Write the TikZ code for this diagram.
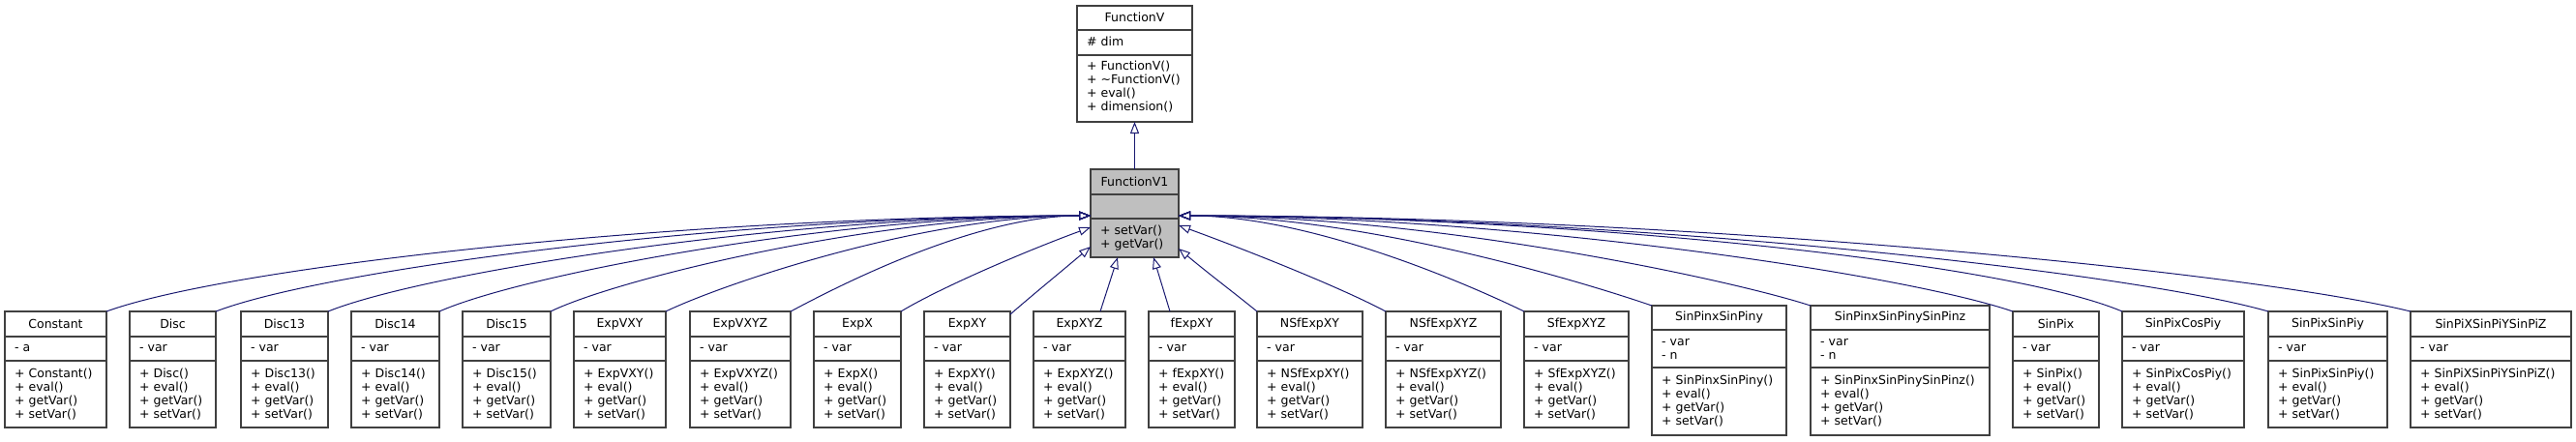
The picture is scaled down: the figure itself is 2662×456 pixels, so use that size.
\documentclass[tikz,border=0pt]{standalone}
\usepackage{fontspec}
\setmainfont{DejaVu Sans}
\usetikzlibrary{arrows.meta,positioning,calc}
\definecolor{edgeblue}{RGB}{25,25,112}
\definecolor{boxgray}{RGB}{191,191,191}
\definecolor{boxline}{RGB}{64,64,64}

\tikzset{
  classbox/.style={draw=boxline, line width=1.4pt, fill=white, rectangle,
    inner sep=0pt, outer sep=0pt, anchor=north west},
  sepline/.style={draw=boxline, line width=1.4pt},
  classtext/.style={inner sep=0pt, font=\fontsize{12.5}{14}\selectfont, align=left},
  inherit/.style={draw=edgeblue, line width=1pt,
    -{Triangle[open, length=12pt, width=9pt]}},
}

% child class with one attribute: id, left x, right x, name, attribute
\newcommand{\childclass}[5]{%
  \node[classbox, minimum width={(#3-#2)*1pt}, minimum height=120pt] (#1) at (#2,322) {};
  \draw[sepline] ([yshift=-26pt]#1.north west) -- ([yshift=-26pt]#1.north east);
  \draw[sepline] ([yshift=-51pt]#1.north west) -- ([yshift=-51pt]#1.north east);
  \node[classtext] (#1-name) at ([yshift=-13pt]#1.north) {#4};
  \node[classtext, anchor=west] (#1-attr) at ([xshift=10pt,yshift=-38.5pt]#1.north west) {#5};
  \node[classtext, anchor=west] (#1-ops) at ([xshift=10pt,yshift=-85.5pt]#1.north west)
    {+ #4()\\+ eval()\\+ getVar()\\+ setVar()};
}
% child class with two attributes: id, left x, right x, name
\newcommand{\tallclass}[4]{%
  \node[classbox, minimum width={(#3-#2)*1pt}, minimum height=134pt] (#1) at (#2,316) {};
  \draw[sepline] ([yshift=-25pt]#1.north west) -- ([yshift=-25pt]#1.north east);
  \draw[sepline] ([yshift=-64pt]#1.north west) -- ([yshift=-64pt]#1.north east);
  \node[classtext] (#1-name) at ([yshift=-12.5pt]#1.north) {#4};
  \node[classtext, anchor=west] (#1-attr) at ([xshift=10pt,yshift=-44.5pt]#1.north west) {- var\\- n};
  \node[classtext, anchor=west] (#1-ops) at ([xshift=10pt,yshift=-99pt]#1.north west)
    {+ #4()\\+ eval()\\+ getVar()\\+ setVar()};
}

\begin{document}
\begin{tikzpicture}[x=1pt, y=-1pt]
\useasboundingbox (0,0) rectangle (2662,456);

% Base class
\node[classbox, minimum width=119pt, minimum height=120pt] (fv) at (1113,6) {};
\draw[sepline] ([yshift=-25pt]fv.north west) -- ([yshift=-25pt]fv.north east);
\draw[sepline] ([yshift=-51pt]fv.north west) -- ([yshift=-51pt]fv.north east);
\node[classtext] (fv-name) at ([yshift=-12pt]fv.north) {FunctionV};
\node[classtext, anchor=west] (fv-attr) at ([xshift=10pt,yshift=-37pt]fv.north west) {\# dim};
\node[classtext, anchor=west] (fv-ops) at ([xshift=10pt,yshift=-84pt]fv.north west)
  {+ FunctionV()\\+ \textasciitilde FunctionV()\\+ eval()\\+ dimension()};

% Intermediate class
\node[classbox, fill=boxgray, minimum width=91pt, minimum height=91pt] (v1) at (1127,175) {};
\draw[sepline] ([yshift=-26pt]v1.north west) -- ([yshift=-26pt]v1.north east);
\draw[sepline] ([yshift=-51pt]v1.north west) -- ([yshift=-51pt]v1.north east);
\node[classtext] (v1-name) at ([yshift=-13pt]v1.north) {FunctionV1};
\node[classtext, anchor=west] (v1-ops) at ([xshift=10pt,yshift=-71pt]v1.north west)
  {+ setVar()\\+ getVar()};

\draw[inherit] (v1.north) -- (fv.south);

% Derived classes
\childclass{Constant}{5}{110}{Constant}{- a}
\childclass{Disc}{134}{223}{Disc}{- var}
\childclass{Disc13}{249}{339}{Disc13}{- var}
\childclass{Disc14}{363}{454}{Disc14}{- var}
\childclass{Disc15}{478}{569}{Disc15}{- var}
\childclass{ExpVXY}{593}{688}{ExpVXY}{- var}
\childclass{ExpVXYZ}{713}{817}{ExpVXYZ}{- var}
\childclass{ExpX}{841}{931}{ExpX}{- var}
\childclass{ExpXY}{955}{1044}{ExpXY}{- var}
\childclass{ExpXYZ}{1068}{1163}{ExpXYZ}{- var}
\childclass{fExpXY}{1187}{1276}{fExpXY}{- var}
\childclass{NSfExpXY}{1299}{1408}{NSfExpXY}{- var}
\childclass{NSfExpXYZ}{1432}{1551}{NSfExpXYZ}{- var}
\childclass{SfExpXYZ}{1575}{1683}{SfExpXYZ}{- var}
\tallclass{SinPinxSinPiny}{1707}{1846}{SinPinxSinPiny}
\tallclass{SinPinxSinPinySinPinz}{1871}{2056}{SinPinxSinPinySinPinz}
\childclass{SinPix}{2080}{2169}{SinPix}{- var}
\childclass{SinPixCosPiy}{2193}{2319}{SinPixCosPiy}{- var}
\childclass{SinPixSinPiy}{2344}{2467}{SinPixSinPiy}{- var}
\childclass{SinPiXSinPiYSinPiZ}{2491}{2657}{SinPiXSinPiYSinPiZ}{- var}

% Arrow ends on FunctionV1
\coordinate (v1-l1) at ([yshift=-48pt]v1.north west);
\coordinate (v1-l2) at ([yshift=-60pt]v1.north west);
\coordinate (v1-l3) at ([yshift=-80pt]v1.north west);
\coordinate (v1-b1) at ([xshift=28pt]v1.south west);
\coordinate (v1-b2) at ([xshift=-26pt]v1.south east);
\coordinate (v1-r1) at ([yshift=-48pt]v1.north east);
\coordinate (v1-r2) at ([yshift=-58pt]v1.north east);
\coordinate (v1-r3) at ([yshift=-82pt]v1.north east);

% Inheritance, left side
\draw[inherit] (Constant.north east) .. controls +(20:139pt) and ($(v1-l1)+(-407pt,0)$) .. (v1-l1);
\draw[inherit] (Disc.north east) .. controls +(21:124pt) and ($(v1-l1)+(-362pt,0)$) .. (v1-l1);
\draw[inherit] (Disc13.north east) .. controls +(22:108pt) and ($(v1-l1)+(-315pt,0)$) .. (v1-l1);
\draw[inherit] (Disc14.north east) .. controls +(24:92pt) and ($(v1-l1)+(-269pt,0)$) .. (v1-l1);
\draw[inherit] (Disc15.north east) .. controls +(26:76pt) and ($(v1-l1)+(-223pt,0)$) .. (v1-l1);
\draw[inherit] (ExpVXY.north east) .. controls +(26:60pt) and ($(v1-l1)+(-176pt,0)$) .. (v1-l1);
\draw[inherit] (ExpVXYZ.north east) .. controls +(28:42pt) and ($(v1-l1)+(-124pt,0)$) .. (v1-l1);
\draw[inherit] (ExpX.north east) .. controls +(31:50pt) and ($(v1-l2)+(-63pt,-23pt)$) .. (v1-l2);
\draw[inherit] ([yshift=-3pt]ExpXY.north east) .. controls +(41:35pt) and ($(v1-l3)+(-33pt,-28pt)$) .. (v1-l3);

% Inheritance, below
\draw[inherit] ([xshift=69pt]ExpXYZ.north west) -- (v1-b1);
\draw[inherit] ([xshift=22pt]fExpXY.north west) -- (v1-b2);

% Inheritance, right side
\draw[inherit] (NSfExpXY.north west) .. controls +(141:35pt) and ($(v1-r3)+(31pt,-26pt)$) .. (v1-r3);
\draw[inherit] (NSfExpXYZ.north west) .. controls +(152:55pt) and ($(v1-r2)+(66pt,-24pt)$) .. (v1-r2);
\draw[inherit] (SfExpXYZ.north west) .. controls +(154:49pt) and ($(v1-r1)+(143pt,0)$) .. (v1-r1);
\draw[inherit] (SinPinxSinPiny.north west) .. controls +(161:67pt) and ($(v1-r1)+(196pt,0)$) .. (v1-r1);
\draw[inherit] (SinPinxSinPinySinPinz.north west) .. controls +(162:89pt) and ($(v1-r1)+(261pt,0)$) .. (v1-r1);
\draw[inherit] (SinPix.north west) .. controls +(161:118pt) and ($(v1-r1)+(345pt,0)$) .. (v1-r1);
\draw[inherit] (SinPixCosPiy.north west) .. controls +(157:134pt) and ($(v1-r1)+(390pt,0)$) .. (v1-r1);
\draw[inherit] (SinPixSinPiy.north west) .. controls +(164:154pt) and ($(v1-r1)+(450pt,0)$) .. (v1-r1);
\draw[inherit] (SinPiXSinPiYSinPiZ.north west) .. controls +(166:174pt) and ($(v1-r1)+(509pt,0)$) .. (v1-r1);
\end{tikzpicture}
\end{document}
